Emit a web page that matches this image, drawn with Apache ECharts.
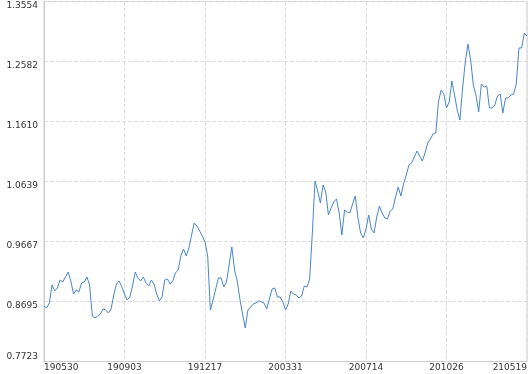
<!DOCTYPE html>
<html>
<head>
<meta charset="utf-8">
<script src="https://cdn.jsdelivr.net/npm/echarts@6/dist/echarts.min.js"></script>
<style>
html,body{margin:0;padding:0;background:#fff;}
#chart{width:530px;height:374px;}
</style>
</head>
<body>
<div id="chart"></div>
<script>
// x tick labels (every 30th point)
var xTickLabels = ['190530', '190903', '191217', '200331', '200714', '201026', '210519'];
var yTickLabels = ['0.7723', '0.8695', '0.9667', '1.0639', '1.1610', '1.2582', '1.3554'];
var yMin = 0.7723;
var yMax = 1.3554;
var labelStep = 30;

// series values
var values = [
  0.8622, 0.8590, 0.8671, 0.8962, 0.8865, 0.8914, 0.9043, 0.9011, 0.9092, 0.9173,
  0.9027, 0.8816, 0.8881, 0.8849, 0.8995, 0.9011, 0.9092, 0.8962, 0.8460, 0.8428,
  0.8460, 0.8492, 0.8573, 0.8557, 0.8509, 0.8573, 0.8800, 0.8978, 0.9027, 0.8930,
  0.8816, 0.8719, 0.8768, 0.8946, 0.9173, 0.9076, 0.9027, 0.9092, 0.8995, 0.8946,
  0.9043, 0.8978, 0.8816, 0.8703, 0.8768, 0.9043, 0.9059, 0.8978, 0.9027, 0.9157,
  0.9205, 0.9432, 0.9546, 0.9432, 0.9562, 0.9772, 0.9967, 0.9918, 0.9837, 0.9756,
  0.9659, 0.9432, 0.8557, 0.8719, 0.8898, 0.9076, 0.9076, 0.8930, 0.9011, 0.9286,
  0.9578, 0.9205, 0.9027, 0.8736, 0.8492, 0.8266, 0.8557, 0.8606, 0.8655, 0.8671,
  0.8703, 0.8687, 0.8671, 0.8573, 0.8736, 0.8898, 0.8914, 0.8768, 0.8768, 0.8687,
  0.8557, 0.8655, 0.8865, 0.8816, 0.8800, 0.8752, 0.8784, 0.8946, 0.8930, 0.9059,
  0.9805, 1.0647, 1.0485, 1.0291, 1.0582, 1.0469, 1.0096, 1.0210, 1.0307, 1.0356,
  1.0129, 0.9772, 1.0177, 1.0145, 1.0129, 1.0275, 1.0404, 1.0048, 0.9805, 0.9724,
  0.9870, 1.0096, 0.9870, 0.9805, 1.0064, 1.0242, 1.0129, 1.0048, 1.0032, 1.0161,
  1.0194, 1.0388, 1.0550, 1.0404, 1.0599, 1.0744, 1.0905, 1.0938, 1.1035, 1.1132,
  1.1051, 1.0970, 1.1100, 1.1262, 1.1327, 1.1408, 1.1424, 1.1926, 1.2120, 1.2055,
  1.1829, 1.1926, 1.2266, 1.2039, 1.1796, 1.1634, 1.2152, 1.2574, 1.2865, 1.2606,
  1.2201, 1.2039, 1.1764, 1.2218, 1.2169, 1.2185, 1.1829, 1.1829, 1.1877, 1.2023,
  1.2055, 1.1748, 1.1991, 1.1991, 1.2039, 1.2055, 1.2218, 1.2801, 1.2801, 1.3044,
  1.2995
];

var categories = values.map(function (v, i) { return String(i); });
var yInterval = (yMax - yMin) / 6;

var chart = echarts.init(document.getElementById('chart'), null, {renderer: 'canvas'});
chart.setOption({
  animation: false,
  backgroundColor: '#ffffff',
  grid: {
    left: 44, right: 1.5, top: 1.5, bottom: 12.5,
    show: true, borderColor: '#cccccc', borderWidth: 1,
    containLabel: false
  },
  xAxis: {
    type: 'category',
    data: categories,
    boundaryGap: false,
    axisLine: {show: true, lineStyle: {color: '#cccccc'}},
    axisTick: {show: false},
    axisLabel: {
      interval: function (i) { return i % labelStep === 0; },
      formatter: function (val, i) {
        var k = Number(val) / labelStep;
        return xTickLabels[k] || '';
      },
      margin: 2,
      color: '#333333',
      fontFamily: 'DejaVu Sans',
      fontSize: 9,
      alignMinLabel: 'left',
      alignMaxLabel: 'right'
    },
    splitLine: {
      show: true,
      interval: function (i) { return i % labelStep === 0; },
      lineStyle: {color: '#dddddd', type: 'dashed', width: 1}
    }
  },
  yAxis: {
    type: 'value',
    min: yMin,
    max: yMax,
    interval: yInterval,
    axisLine: {show: true, lineStyle: {color: '#cccccc'}},
    axisTick: {show: false},
    axisLabel: {
      formatter: function (v) {
        var k = Math.round((v - yMin) / yInterval);
        return yTickLabels[k] || '';
      },
      margin: 6,
      color: '#333333',
      fontFamily: 'DejaVu Sans',
      fontSize: 9,
      verticalAlign: 'top',
      verticalAlignMinLabel: 'bottom'
    },
    splitLine: {
      show: true,
      lineStyle: {color: '#dddddd', type: 'dashed', width: 1}
    }
  },
  series: [{
    type: 'line',
    data: values,
    showSymbol: false,
    symbol: 'none',
    lineStyle: {color: '#4a86c8', width: 1},
    itemStyle: {color: '#4a86c8'}
  }]
});
</script>
</body>
</html>
